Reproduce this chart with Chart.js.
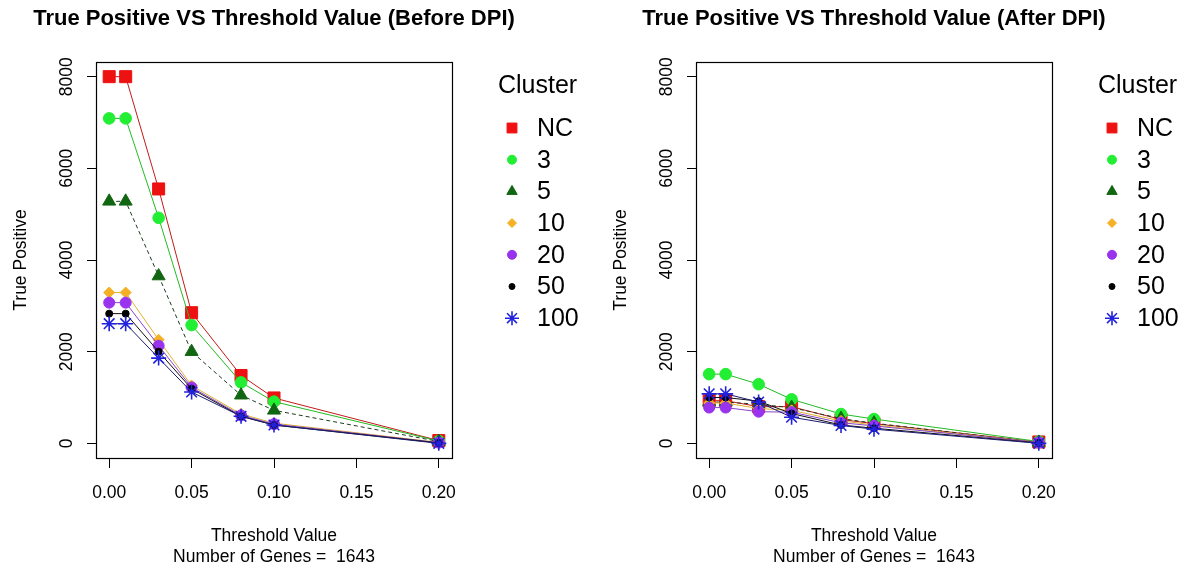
<!DOCTYPE html>
<html>
<head>
<meta charset="utf-8">
<script src="https://cdn.jsdelivr.net/npm/chart.js@4.4.1/dist/chart.umd.min.js"></script>
<style>
  html, body { margin: 0; padding: 0; background: #ffffff; overflow: hidden; width: 1188px; height: 568px; }
  .panel { position: absolute; top: 0; width: 594px; height: 568px; }
  #p1 { left: 0; }
  #p2 { left: 600px; }
</style>
</head>
<body>
<div class="panel" id="p1"><canvas id="c1" width="594" height="568"></canvas></div>
<div class="panel" id="p2"><canvas id="c2" width="594" height="568"></canvas></div>
<script>
// ---------- data ----------
const thresholds = [0, 0.01, 0.03, 0.05, 0.08, 0.1, 0.2];
const clusters = ['NC', '3', '5', '10', '20', '50', '100'];
const xTicks = [0, 0.05, 0.1, 0.15, 0.2];
const yTicks = [0, 2000, 4000, 6000, 8000];

const beforeNC  = [8000, 8000, 5550, 2850, 1480, 990, 60];
const before3   = [7090, 7090, 4920, 2580, 1330, 910, 50];
const before5   = [5280, 5280, 3650, 2000, 1050, 720, 40];
const before10  = [3290, 3290, 2260, 1260, 640, 440, 20];
const before20  = [3070, 3070, 2130, 1220, 610, 420, 15];
const before50  = [2830, 2830, 2000, 1190, 590, 400, 10];
const before100 = [2610, 2610, 1860, 1120, 590, 400, 0];

const afterNC  = [930, 930, 800, 800, 520, 430, 30];
const after3   = [1510, 1510, 1290, 960, 640, 530, 40];
const after5   = [900, 900, 850, 780, 540, 440, 20];
const after10  = [880, 880, 760, 720, 490, 400, 20];
const after20  = [780, 780, 690, 680, 450, 380, 20];
const after50  = [1000, 1000, 920, 650, 400, 330, 10];
const after100 = [1080, 1080, 900, 570, 390, 310, 0];

const titleBefore = 'True Positive VS Threshold Value (Before DPI)';
const titleAfter = 'True Positive VS Threshold Value (After DPI)';
const xTitle = ['Threshold Value', 'Number of Genes =  1643'];
const yTitle = 'True Positive';
const legendTitle = 'Cluster';

// ---------- styles ----------
const FONT = '"Liberation Sans", Arial, Helvetica, sans-serif';
const seriesStyle = [
  { pointStyle: 'rect',     radius: 8.5, legendRadius: 7,   fill: '#ee1111', line: '#c21a1a', dash: [] },
  { pointStyle: 'circle',   radius: 5.8, legendRadius: 4.5, fill: '#22ee33', line: '#22bb22', dash: [] },
  { pointStyle: 'triangle', radius: 7.5, legendRadius: 6,   fill: '#116611', line: '#1c3a1c', dash: [4, 3] },
  { pointStyle: 'rectRot',  radius: 5.5, legendRadius: 4.5, fill: '#f5b025', line: '#e0b030', dash: [] },
  { pointStyle: 'circle',   radius: 5.5, legendRadius: 4.5, fill: '#9933ee', line: '#8844cc', dash: [] },
  { pointStyle: 'circle',   radius: 3.5, legendRadius: 3,   fill: '#000000', line: '#111111', dash: [] },
  { pointStyle: 'star',     radius: 7.5, legendRadius: 7,   fill: '#2222dd', line: '#1a1a70', dash: [] }
];

function makeDatasets(seriesList) {
  return seriesList.map((vals, i) => {
    const s = seriesStyle[i];
    return {
      label: clusters[i],
      data: thresholds.map((t, k) => ({ x: t, y: vals[k] })),
      borderColor: s.line,
      borderWidth: 1,
      borderDash: s.dash,
      pointStyle: s.pointStyle,
      pointRadius: s.radius,
      pointHoverRadius: s.radius,
      pointBackgroundColor: s.fill,
      pointBorderColor: s.fill,
      pointBorderWidth: s.pointStyle === 'star' ? 1.6 : 1,
      legendRadius: s.legendRadius,
      fill: false,
      tension: 0,
      order: seriesList.length - i
    };
  });
}

const boxPlugin = {
  id: 'rbox',
  beforeDatasetsDraw(chart) {
    const a = chart.chartArea, ctx = chart.ctx;
    ctx.save();
    ctx.strokeStyle = '#000';
    ctx.lineWidth = 1.2;
    ctx.strokeRect(Math.round(a.left) + 0.5, Math.round(a.top) + 0.5, Math.round(a.right - a.left), Math.round(a.bottom - a.top));
    ctx.restore();
  }
};

const legendPlugin = {
  id: 'rlegend',
  afterDraw(chart) {
    const ctx = chart.ctx, a = chart.chartArea;
    const x0 = a.right + 46;
    ctx.save();
    ctx.font = '25px ' + FONT;
    ctx.textBaseline = 'middle';
    ctx.textAlign = 'left';
    ctx.fillStyle = '#000';
    ctx.fillText(legendTitle, x0, 86);
    chart.data.datasets.forEach((ds, i) => {
      const y = 128 + i * 31.7;
      ctx.fillStyle = ds.pointBackgroundColor;
      ctx.strokeStyle = ds.pointBorderColor;
      ctx.lineWidth = ds.pointBorderWidth;
      Chart.helpers.drawPoint(ctx, { pointStyle: ds.pointStyle, radius: ds.legendRadius, rotation: 0, borderWidth: ds.pointBorderWidth }, x0 + 14, y);
      ctx.fillStyle = '#000';
      ctx.fillText(ds.label, x0 + 39, y + 1);
    });
    ctx.restore();
  }
};

function makeChart(canvasId, title, seriesList) {
  return new Chart(document.getElementById(canvasId), {
    type: 'line',
    data: { datasets: makeDatasets(seriesList) },
    plugins: [boxPlugin, legendPlugin],
    options: {
      responsive: false,
      animation: false,
      devicePixelRatio: 1,
      layout: { padding: { left: 20, right: 66, top: 0, bottom: 0 } },
      plugins: {
        legend: { display: false },
        tooltip: { enabled: false },
        title: {
          display: true,
          text: title,
          fullSize: true,
          color: '#000',
          font: { family: FONT, size: 22, weight: 'bold', lineHeight: 1.2 },
          padding: { top: 6, bottom: 29.6 }
        }
      },
      scales: {
        x: {
          type: 'linear',
          min: -0.008,
          max: 0.208,
          afterBuildTicks: s => { s.ticks = xTicks.map(v => ({ value: v })); },
          afterFit: s => { s.height = 110; },
          ticks: {
            color: '#000',
            font: { family: FONT, size: 17.5 },
            padding: 15,
            maxRotation: 0,
            autoSkip: false,
            callback: v => Number(v).toFixed(2)
          },
          grid: { drawOnChartArea: false, drawTicks: true, tickLength: 10, color: '#000', lineWidth: 1 },
          border: { display: false },
          title: {
            display: true,
            text: xTitle,
            color: '#000',
            font: { family: FONT, size: 17.5, lineHeight: 1.2 },
            padding: { top: 0, bottom: 0 }
          }
        },
        y: {
          type: 'linear',
          min: -320,
          max: 8320,
          afterBuildTicks: s => { s.ticks = yTicks.map(v => ({ value: v })); },
          afterFit: s => { s.width = 76; },
          ticks: {
            color: '#000',
            font: { family: FONT, size: 17.5 },
            minRotation: 90,
            maxRotation: 90,
            crossAlign: 'center',
            padding: 0,
            autoSkip: false,
            callback: v => String(v)
          },
          grid: { drawOnChartArea: false, drawTicks: true, tickLength: 9, color: '#000', lineWidth: 1 },
          border: { display: false },
          title: {
            display: true,
            text: yTitle,
            color: '#000',
            font: { family: FONT, size: 17.5, lineHeight: 1.2 },
            padding: { top: -9, bottom: 0 }
          }
        },
        yLegendSpace: {
          type: 'linear',
          position: 'right',
          display: true,
          afterFit: s => { s.width = 76; },
          ticks: { display: false },
          grid: { display: false },
          border: { display: false },
          title: { display: false }
        }
      }
    }
  });
}

makeChart('c1', titleBefore, [beforeNC, before3, before5, before10, before20, before50, before100]);
makeChart('c2', titleAfter, [afterNC, after3, after5, after10, after20, after50, after100]);
</script>
</body>
</html>
